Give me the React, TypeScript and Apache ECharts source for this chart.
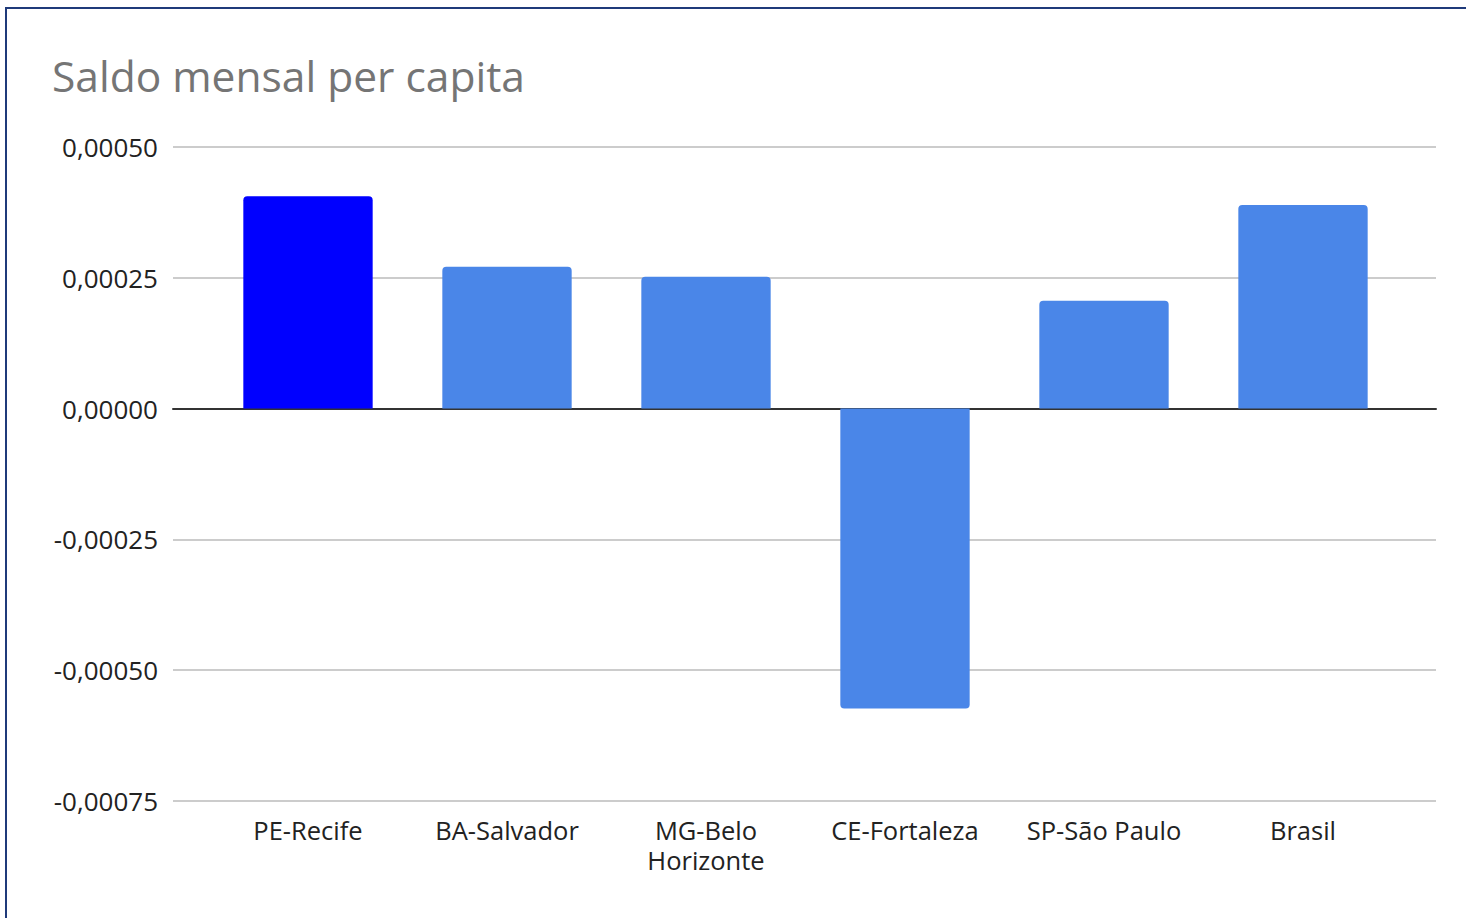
import React, { useEffect, useRef } from "react";
import * as echarts from "echarts";

const categories = ["PE-Recife", "BA-Salvador", "MG-Belo\nHorizonte", "CE-Fortaleza", "SP-São Paulo", "Brasil"];
const values = [0.000406, 0.000271, 0.000252, -0.000573, 0.000206, 0.000389];
const barColors = ["#0000ff", "#4a86e8", "#4a86e8", "#4a86e8", "#4a86e8", "#4a86e8"];
const yMin = -0.00075;
const yMax = 0.0005;
const yStep = 0.00025;

const FONT = "'Open Sans', 'Noto Sans', sans-serif";

export default function App() {
  const ref = useRef<HTMLDivElement>(null);
  useEffect(() => {
    if (!ref.current) return;
    const chart = echarts.init(ref.current, undefined, { renderer: "svg" });
    const fmt = (v: number) => v.toFixed(5).replace(".", ",");
    chart.setOption({
      animation: false,
      backgroundColor: "#ffffff",
      title: {
        text: "Saldo mensal per capita",
        left: 47,
        top: 49,
        textStyle: { fontFamily: FONT, fontSize: 42.5, fontWeight: "normal", color: "#757575" },
      },
      grid: [
        { left: 173, right: 30, top: 147, bottom: 918 - 801, containLabel: false },
        { left: 208.5, right: 63.5, top: 147, bottom: 918 - 801, containLabel: false },
      ],
      xAxis: [
        {
          gridIndex: 0,
          type: "value",
          min: 0,
          max: 1,
          axisLine: { show: true, onZero: true, lineStyle: { color: "#333333", width: 2 } },
          axisTick: { show: false },
          axisLabel: { show: false },
          splitLine: { show: false },
        },
        {
          gridIndex: 1,
          type: "category",
          data: categories,
          axisLine: { show: false },
          axisTick: { show: false },
          axisLabel: {
            interval: 0,
            margin: 14,
            fontFamily: FONT,
            fontSize: 25.5,
            lineHeight: 30,
            color: "#222222",
          },
          splitLine: { show: false },
        },
      ],
      yAxis: [
        {
          gridIndex: 0,
          type: "value",
          min: yMin,
          max: yMax,
          interval: yStep,
          axisLine: { show: false },
          axisTick: { show: false },
          axisLabel: {
            margin: 15,
            fontFamily: FONT,
            fontSize: 26,
            color: "#222222",
            formatter: (v: number) => fmt(v),
          },
          splitLine: { show: true, lineStyle: { color: "#cccccc", width: 2 } },
        },
        {
          gridIndex: 1,
          type: "value",
          min: yMin,
          max: yMax,
          interval: yStep,
          show: false,
          splitLine: { show: false },
        },
      ],
      series: [
        {
          type: "bar",
          xAxisIndex: 1,
          yAxisIndex: 1,
          barCategoryGap: "35%",
          data: values.map((v, i) => ({
            value: v,
            itemStyle: {
              color: barColors[i],
              borderRadius: v >= 0 ? [4, 4, 0, 0] : [0, 0, 4, 4],
            },
          })),
        },
      ],
    });
    return () => chart.dispose();
  }, []);
  return (
    <div
      style={{
        position: "fixed",
        left: 0,
        top: 0,
        width: 1466,
        height: 918,
        background: "#fff",
      }}
    >
      <div ref={ref} style={{ position: "absolute", left: 0, top: 0, width: 1466, height: 918 }} />
      <div
        style={{
          position: "absolute",
          left: 5,
          top: 7,
          width: 1480,
          height: 930,
          borderLeft: "2px solid #1f3a7a",
          borderTop: "2px solid #1f3a7a",
          pointerEvents: "none",
        }}
      />
    </div>
  );
}
